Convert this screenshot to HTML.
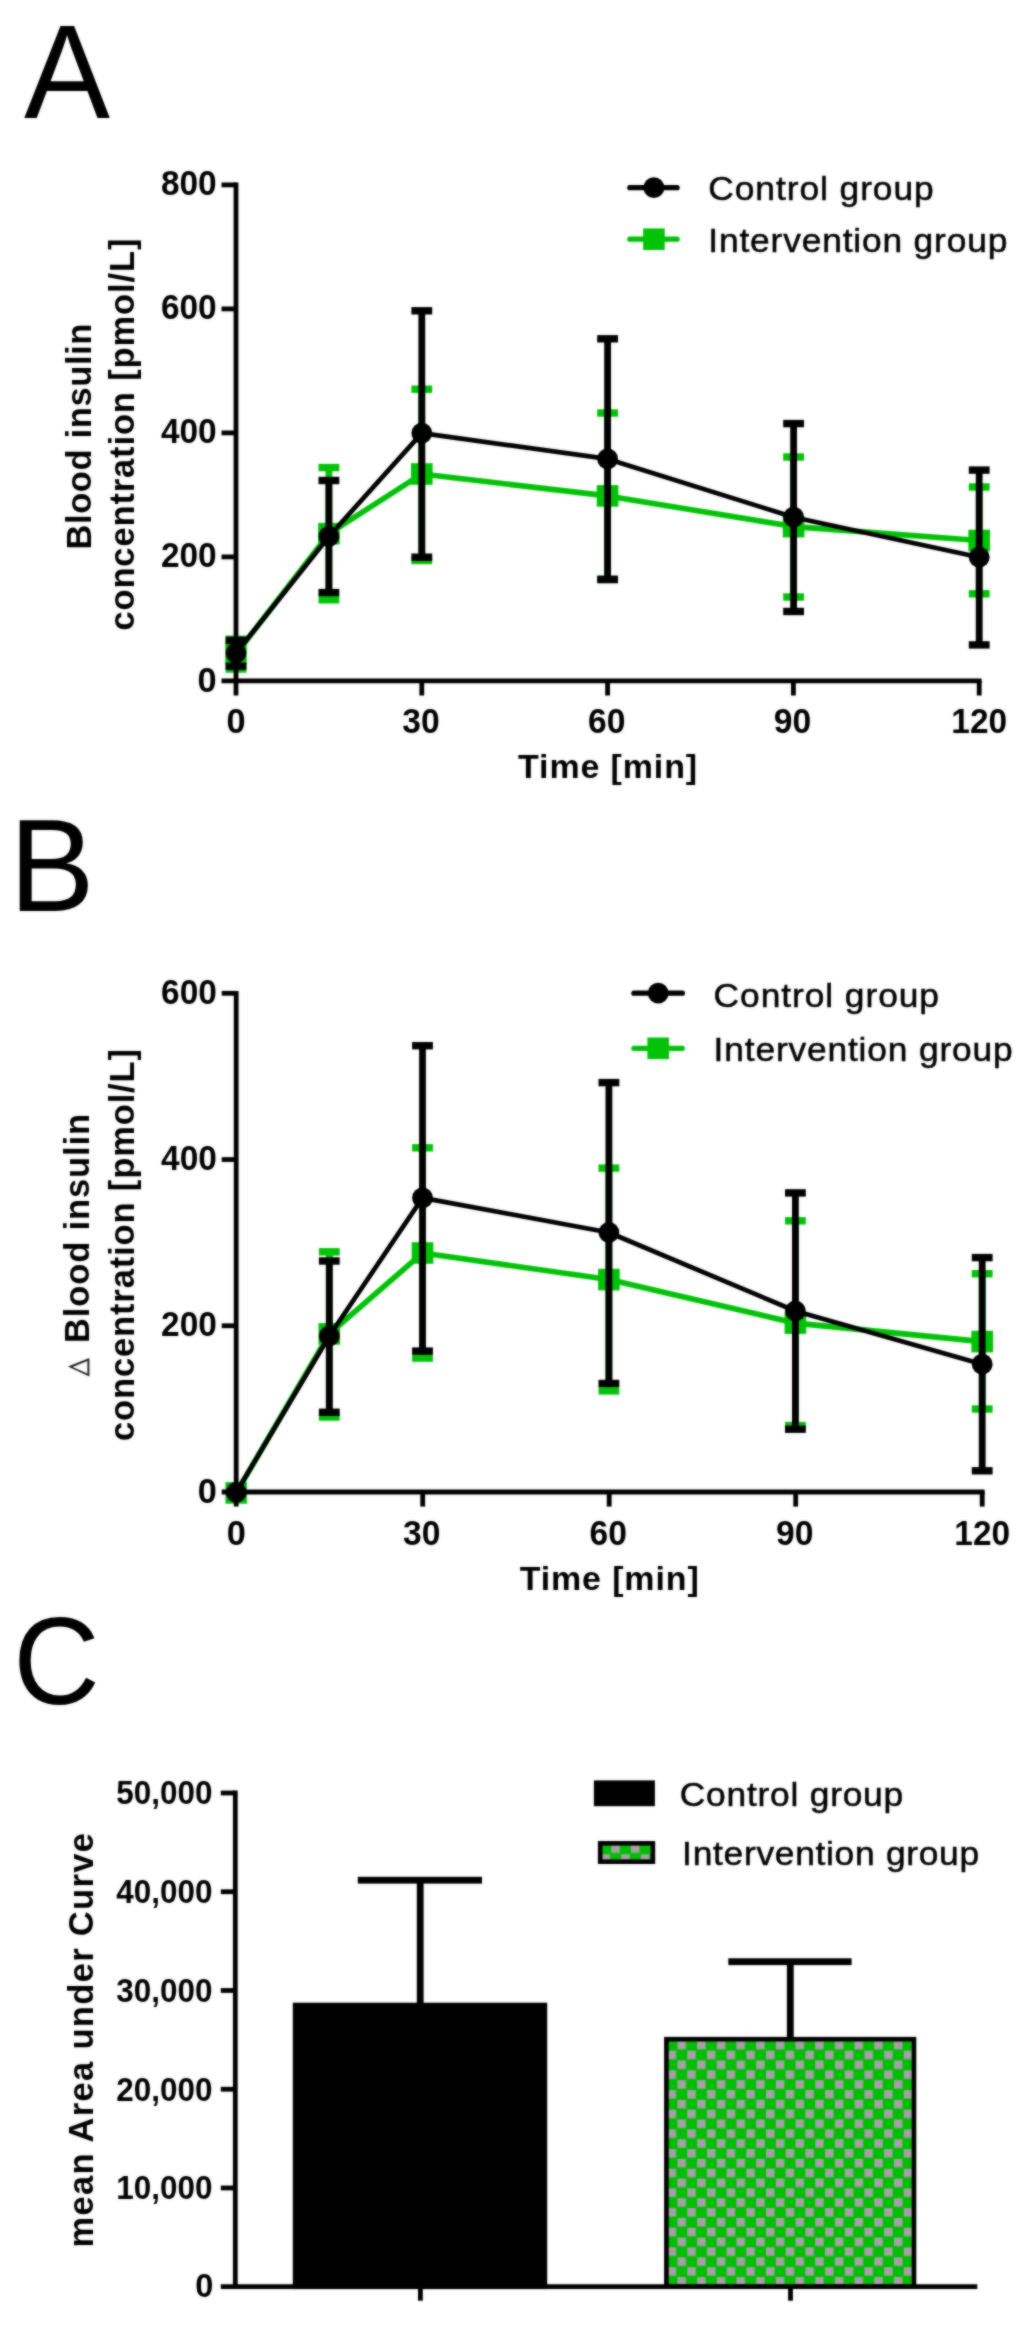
<!DOCTYPE html>
<html><head><meta charset="utf-8"><title>Figure</title>
<style>
html,body{margin:0;padding:0;background:#fff;}
svg{display:block;font-family:"Liberation Sans",sans-serif;}
</style></head>
<body>
<svg width="1034" height="2337" viewBox="0 0 1034 2337">
<defs><filter id="bl" color-interpolation-filters="sRGB" x="0" y="0" width="1034" height="2337" filterUnits="userSpaceOnUse"><feGaussianBlur stdDeviation="0.8" result="b"/><feComposite in="b" in2="SourceGraphic" operator="arithmetic" k1="0" k2="0.6" k3="0.4" k4="0"/></filter></defs>
<rect width="1034" height="2337" fill="#fff"/>
<g filter="url(#bl)">
<rect width="1034" height="2337" fill="#fff"/>
<text transform="translate(24 117.6) scale(1 1.03)" font-size="129">A</text>
<polyline points="236,654 328.9,533.7 421.8,474 607.6,495.9 793.6,526.6 979.2,540.5" fill="none" stroke="#00c206" stroke-width="5.6" stroke-linejoin="round"/>
<line x1="236" y1="639.3" x2="236" y2="669" stroke="#00c206" stroke-width="6.8" stroke-linecap="butt"/>
<rect x="225.6" y="635.6" width="20.8" height="7.4" fill="#00c206"/>
<rect x="225.6" y="665.3" width="20.8" height="7.4" fill="#00c206"/>
<line x1="328.9" y1="467.6" x2="328.9" y2="599.8" stroke="#00c206" stroke-width="6.8" stroke-linecap="butt"/>
<rect x="318.5" y="463.9" width="20.8" height="7.4" fill="#00c206"/>
<rect x="318.5" y="596.1" width="20.8" height="7.4" fill="#00c206"/>
<line x1="421.8" y1="389.2" x2="421.8" y2="560.5" stroke="#00c206" stroke-width="6.8" stroke-linecap="butt"/>
<rect x="411.4" y="385.5" width="20.8" height="7.4" fill="#00c206"/>
<rect x="411.4" y="556.8" width="20.8" height="7.4" fill="#00c206"/>
<line x1="607.6" y1="413" x2="607.6" y2="579" stroke="#00c206" stroke-width="6.8" stroke-linecap="butt"/>
<rect x="597.2" y="409.3" width="20.8" height="7.4" fill="#00c206"/>
<rect x="597.2" y="575.3" width="20.8" height="7.4" fill="#00c206"/>
<line x1="793.6" y1="457" x2="793.6" y2="597" stroke="#00c206" stroke-width="6.8" stroke-linecap="butt"/>
<rect x="783.2" y="453.3" width="20.8" height="7.4" fill="#00c206"/>
<rect x="783.2" y="593.3" width="20.8" height="7.4" fill="#00c206"/>
<line x1="979.2" y1="487" x2="979.2" y2="593.8" stroke="#00c206" stroke-width="6.8" stroke-linecap="butt"/>
<rect x="968.8" y="483.3" width="20.8" height="7.4" fill="#00c206"/>
<rect x="968.8" y="590.1" width="20.8" height="7.4" fill="#00c206"/>
<rect x="225.2" y="643.2" width="21.6" height="21.6" fill="#00c206"/>
<rect x="318.1" y="522.9" width="21.6" height="21.6" fill="#00c206"/>
<rect x="411" y="463.2" width="21.6" height="21.6" fill="#00c206"/>
<rect x="596.8" y="485.1" width="21.6" height="21.6" fill="#00c206"/>
<rect x="782.8" y="515.8" width="21.6" height="21.6" fill="#00c206"/>
<rect x="968.4" y="529.7" width="21.6" height="21.6" fill="#00c206"/>
<polyline points="236,653 328.9,536.5 421.8,433.1 607.6,458.9 793.6,517.2 979.2,557.2" fill="none" stroke="#000" stroke-width="4.7" stroke-linejoin="round"/>
<line x1="236" y1="640.4" x2="236" y2="666.2" stroke="#000" stroke-width="6.8" stroke-linecap="butt"/>
<rect x="225.6" y="636.7" width="20.8" height="7.4" fill="#000"/>
<rect x="225.6" y="662.5" width="20.8" height="7.4" fill="#000"/>
<line x1="328.9" y1="480.5" x2="328.9" y2="592.6" stroke="#000" stroke-width="6.8" stroke-linecap="butt"/>
<rect x="318.5" y="476.8" width="20.8" height="7.4" fill="#000"/>
<rect x="318.5" y="588.9" width="20.8" height="7.4" fill="#000"/>
<line x1="421.8" y1="310.8" x2="421.8" y2="557.2" stroke="#000" stroke-width="6.8" stroke-linecap="butt"/>
<rect x="411.4" y="307.1" width="20.8" height="7.4" fill="#000"/>
<rect x="411.4" y="553.5" width="20.8" height="7.4" fill="#000"/>
<line x1="607.6" y1="338.8" x2="607.6" y2="579.6" stroke="#000" stroke-width="6.8" stroke-linecap="butt"/>
<rect x="597.2" y="335.1" width="20.8" height="7.4" fill="#000"/>
<rect x="597.2" y="575.9" width="20.8" height="7.4" fill="#000"/>
<line x1="793.6" y1="423.6" x2="793.6" y2="611.5" stroke="#000" stroke-width="6.8" stroke-linecap="butt"/>
<rect x="783.2" y="419.9" width="20.8" height="7.4" fill="#000"/>
<rect x="783.2" y="607.8" width="20.8" height="7.4" fill="#000"/>
<line x1="979.2" y1="470.1" x2="979.2" y2="644.9" stroke="#000" stroke-width="6.8" stroke-linecap="butt"/>
<rect x="968.8" y="466.4" width="20.8" height="7.4" fill="#000"/>
<rect x="968.8" y="641.2" width="20.8" height="7.4" fill="#000"/>
<circle cx="236" cy="653" r="10.4"/>
<circle cx="328.9" cy="536.5" r="10.4"/>
<circle cx="421.8" cy="433.1" r="10.4"/>
<circle cx="607.6" cy="458.9" r="10.4"/>
<circle cx="793.6" cy="517.2" r="10.4"/>
<circle cx="979.2" cy="557.2" r="10.4"/>
<line x1="236" y1="182.5" x2="236" y2="695.5" stroke="#000" stroke-width="4.8" stroke-linecap="butt"/>
<line x1="221.5" y1="680.9" x2="981.6" y2="680.9" stroke="#000" stroke-width="4.8" stroke-linecap="butt"/>
<text x="216.7" y="692" font-size="34.3" font-weight="bold" text-anchor="end">0</text>
<line x1="221.5" y1="556.9" x2="236" y2="556.9" stroke="#000" stroke-width="4.8" stroke-linecap="butt"/>
<text x="216.7" y="567.3" font-size="34.3" font-weight="bold" text-anchor="end" textLength="55.8" lengthAdjust="spacingAndGlyphs">200</text>
<line x1="221.5" y1="432.9" x2="236" y2="432.9" stroke="#000" stroke-width="4.8" stroke-linecap="butt"/>
<text x="216.7" y="443.3" font-size="34.3" font-weight="bold" text-anchor="end" textLength="55.8" lengthAdjust="spacingAndGlyphs">400</text>
<line x1="221.5" y1="308.9" x2="236" y2="308.9" stroke="#000" stroke-width="4.8" stroke-linecap="butt"/>
<text x="216.7" y="319.3" font-size="34.3" font-weight="bold" text-anchor="end" textLength="55.8" lengthAdjust="spacingAndGlyphs">600</text>
<line x1="221.5" y1="184.9" x2="236" y2="184.9" stroke="#000" stroke-width="4.8" stroke-linecap="butt"/>
<text x="216.7" y="195.3" font-size="34.3" font-weight="bold" text-anchor="end" textLength="55.8" lengthAdjust="spacingAndGlyphs">800</text>
<text x="236" y="732.8" font-size="34.3" font-weight="bold" text-anchor="middle">0</text>
<line x1="421.8" y1="680.9" x2="421.8" y2="695.5" stroke="#000" stroke-width="4.8" stroke-linecap="butt"/>
<text x="420.9" y="732.8" font-size="34.3" font-weight="bold" text-anchor="middle" textLength="37.4" lengthAdjust="spacingAndGlyphs">30</text>
<line x1="607.6" y1="680.9" x2="607.6" y2="695.5" stroke="#000" stroke-width="4.8" stroke-linecap="butt"/>
<text x="606.7" y="732.8" font-size="34.3" font-weight="bold" text-anchor="middle" textLength="37.4" lengthAdjust="spacingAndGlyphs">60</text>
<line x1="793.4" y1="680.9" x2="793.4" y2="695.5" stroke="#000" stroke-width="4.8" stroke-linecap="butt"/>
<text x="792.5" y="732.8" font-size="34.3" font-weight="bold" text-anchor="middle" textLength="37.4" lengthAdjust="spacingAndGlyphs">90</text>
<line x1="979.2" y1="680.9" x2="979.2" y2="695.5" stroke="#000" stroke-width="4.8" stroke-linecap="butt"/>
<text x="979.2" y="732.8" font-size="34.3" font-weight="bold" text-anchor="middle" textLength="55.8" lengthAdjust="spacingAndGlyphs">120</text>
<text transform="translate(607.6 778.3) scale(1.03 1)" font-size="33" font-weight="bold" text-anchor="middle" textLength="173.91" lengthAdjust="spacing">Time [min]</text>
<text transform="translate(90.6 436.6) rotate(-90)" font-size="34.5" font-weight="bold" text-anchor="middle" textLength="226" lengthAdjust="spacing">Blood insulin</text>
<text transform="translate(134.4 434.6) rotate(-90)" font-size="34.5" font-weight="bold" text-anchor="middle" textLength="392" lengthAdjust="spacing">concentration [pmol/L]</text>
<line x1="629.8" y1="187.7" x2="677.1" y2="187.7" stroke="#000" stroke-width="5.2" stroke-linecap="round"/>
<circle cx="653.9" cy="187.7" r="10.4"/>
<line x1="629.8" y1="239.2" x2="677.1" y2="239.2" stroke="#00c206" stroke-width="5.2" stroke-linecap="round"/>
<rect x="643.1" y="228.4" width="21.6" height="21.6" fill="#00c206"/>
<text transform="translate(708.3 200.4) scale(1.04 1)" font-size="34" textLength="216.75" lengthAdjust="spacing" stroke="#000" stroke-width="0.5">Control group</text>
<text transform="translate(708.3 251.8) scale(1.04 1)" font-size="34" textLength="287.56" lengthAdjust="spacing" stroke="#000" stroke-width="0.5">Intervention group</text>
<text transform="translate(9.2 911.4) scale(1 1.03)" font-size="128">B</text>
<polyline points="236.2,1492.9 329.3,1333.9 422.5,1253 608.9,1279.6 795.4,1323.1 982.2,1341.6" fill="none" stroke="#00c206" stroke-width="5.6" stroke-linejoin="round"/>
<line x1="329.3" y1="1251.8" x2="329.3" y2="1417" stroke="#00c206" stroke-width="6.8" stroke-linecap="butt"/>
<rect x="318.9" y="1248.1" width="20.8" height="7.4" fill="#00c206"/>
<rect x="318.9" y="1413.3" width="20.8" height="7.4" fill="#00c206"/>
<line x1="422.5" y1="1147.8" x2="422.5" y2="1358.1" stroke="#00c206" stroke-width="6.8" stroke-linecap="butt"/>
<rect x="412.1" y="1144.1" width="20.8" height="7.4" fill="#00c206"/>
<rect x="412.1" y="1354.4" width="20.8" height="7.4" fill="#00c206"/>
<line x1="608.9" y1="1168.1" x2="608.9" y2="1390.9" stroke="#00c206" stroke-width="6.8" stroke-linecap="butt"/>
<rect x="598.5" y="1164.4" width="20.8" height="7.4" fill="#00c206"/>
<rect x="598.5" y="1387.2" width="20.8" height="7.4" fill="#00c206"/>
<line x1="795.4" y1="1220.8" x2="795.4" y2="1425.6" stroke="#00c206" stroke-width="6.8" stroke-linecap="butt"/>
<rect x="785" y="1217.1" width="20.8" height="7.4" fill="#00c206"/>
<rect x="785" y="1421.9" width="20.8" height="7.4" fill="#00c206"/>
<line x1="982.2" y1="1273.7" x2="982.2" y2="1409" stroke="#00c206" stroke-width="6.8" stroke-linecap="butt"/>
<rect x="971.8" y="1270" width="20.8" height="7.4" fill="#00c206"/>
<rect x="971.8" y="1405.3" width="20.8" height="7.4" fill="#00c206"/>
<rect x="225.4" y="1482.1" width="21.6" height="21.6" fill="#00c206"/>
<rect x="318.5" y="1323.1" width="21.6" height="21.6" fill="#00c206"/>
<rect x="411.7" y="1242.2" width="21.6" height="21.6" fill="#00c206"/>
<rect x="598.1" y="1268.8" width="21.6" height="21.6" fill="#00c206"/>
<rect x="784.6" y="1312.3" width="21.6" height="21.6" fill="#00c206"/>
<rect x="971.4" y="1330.8" width="21.6" height="21.6" fill="#00c206"/>
<polyline points="236.2,1492.5 329.3,1336 422.5,1197.9 608.9,1232.5 795.4,1311 982.2,1364.2" fill="none" stroke="#000" stroke-width="4.7" stroke-linejoin="round"/>
<line x1="329.3" y1="1261" x2="329.3" y2="1412.3" stroke="#000" stroke-width="6.8" stroke-linecap="butt"/>
<rect x="318.9" y="1257.3" width="20.8" height="7.4" fill="#000"/>
<rect x="318.9" y="1408.6" width="20.8" height="7.4" fill="#000"/>
<line x1="422.5" y1="1045.7" x2="422.5" y2="1351.1" stroke="#000" stroke-width="6.8" stroke-linecap="butt"/>
<rect x="412.1" y="1042" width="20.8" height="7.4" fill="#000"/>
<rect x="412.1" y="1347.4" width="20.8" height="7.4" fill="#000"/>
<line x1="608.9" y1="1082.6" x2="608.9" y2="1383.5" stroke="#000" stroke-width="6.8" stroke-linecap="butt"/>
<rect x="598.5" y="1078.9" width="20.8" height="7.4" fill="#000"/>
<rect x="598.5" y="1379.8" width="20.8" height="7.4" fill="#000"/>
<line x1="795.4" y1="1192.9" x2="795.4" y2="1429.2" stroke="#000" stroke-width="6.8" stroke-linecap="butt"/>
<rect x="785" y="1189.2" width="20.8" height="7.4" fill="#000"/>
<rect x="785" y="1425.5" width="20.8" height="7.4" fill="#000"/>
<line x1="982.2" y1="1257.6" x2="982.2" y2="1470.8" stroke="#000" stroke-width="6.8" stroke-linecap="butt"/>
<rect x="971.8" y="1253.9" width="20.8" height="7.4" fill="#000"/>
<rect x="971.8" y="1467.1" width="20.8" height="7.4" fill="#000"/>
<circle cx="236.2" cy="1492.5" r="10.4"/>
<circle cx="329.3" cy="1336" r="10.4"/>
<circle cx="422.5" cy="1197.9" r="10.4"/>
<circle cx="608.9" cy="1232.5" r="10.4"/>
<circle cx="795.4" cy="1311" r="10.4"/>
<circle cx="982.2" cy="1364.2" r="10.4"/>
<line x1="236.2" y1="990.9" x2="236.2" y2="1506.6" stroke="#000" stroke-width="4.8" stroke-linecap="butt"/>
<line x1="221.7" y1="1492" x2="984.6" y2="1492" stroke="#000" stroke-width="4.8" stroke-linecap="butt"/>
<text x="216.9" y="1503.1" font-size="34.3" font-weight="bold" text-anchor="end">0</text>
<line x1="221.7" y1="1325.77" x2="236.2" y2="1325.77" stroke="#000" stroke-width="4.8" stroke-linecap="butt"/>
<text x="216.9" y="1336.17" font-size="34.3" font-weight="bold" text-anchor="end" textLength="55.8" lengthAdjust="spacingAndGlyphs">200</text>
<line x1="221.7" y1="1159.53" x2="236.2" y2="1159.53" stroke="#000" stroke-width="4.8" stroke-linecap="butt"/>
<text x="216.9" y="1169.93" font-size="34.3" font-weight="bold" text-anchor="end" textLength="55.8" lengthAdjust="spacingAndGlyphs">400</text>
<line x1="221.7" y1="993.3" x2="236.2" y2="993.3" stroke="#000" stroke-width="4.8" stroke-linecap="butt"/>
<text x="216.9" y="1003.7" font-size="34.3" font-weight="bold" text-anchor="end" textLength="55.8" lengthAdjust="spacingAndGlyphs">600</text>
<text x="236.2" y="1544.9" font-size="34.3" font-weight="bold" text-anchor="middle">0</text>
<line x1="422.7" y1="1492" x2="422.7" y2="1506.6" stroke="#000" stroke-width="4.8" stroke-linecap="butt"/>
<text x="421.8" y="1544.9" font-size="34.3" font-weight="bold" text-anchor="middle" textLength="37.4" lengthAdjust="spacingAndGlyphs">30</text>
<line x1="609.2" y1="1492" x2="609.2" y2="1506.6" stroke="#000" stroke-width="4.8" stroke-linecap="butt"/>
<text x="608.3" y="1544.9" font-size="34.3" font-weight="bold" text-anchor="middle" textLength="37.4" lengthAdjust="spacingAndGlyphs">60</text>
<line x1="795.7" y1="1492" x2="795.7" y2="1506.6" stroke="#000" stroke-width="4.8" stroke-linecap="butt"/>
<text x="794.8" y="1544.9" font-size="34.3" font-weight="bold" text-anchor="middle" textLength="37.4" lengthAdjust="spacingAndGlyphs">90</text>
<line x1="982.2" y1="1492" x2="982.2" y2="1506.6" stroke="#000" stroke-width="4.8" stroke-linecap="butt"/>
<text x="982.2" y="1544.9" font-size="34.3" font-weight="bold" text-anchor="middle" textLength="55.8" lengthAdjust="spacingAndGlyphs">120</text>
<text transform="translate(609.2 1590.4) scale(1.03 1)" font-size="33" font-weight="bold" text-anchor="middle" textLength="173.91" lengthAdjust="spacing">Time [min]</text>
<text transform="translate(89.4 1228.5) rotate(-90)" font-size="34.5" font-weight="bold" text-anchor="middle" textLength="229" lengthAdjust="spacing">Blood insulin</text>
<text transform="translate(133.6 1245) rotate(-90)" font-size="34.5" font-weight="bold" text-anchor="middle" textLength="392" lengthAdjust="spacing">concentration [pmol/L]</text>
<line x1="633.9" y1="993.2" x2="682.4" y2="993.2" stroke="#000" stroke-width="5.2" stroke-linecap="round"/>
<circle cx="658.2" cy="993.2" r="10.4"/>
<line x1="633.9" y1="1048.3" x2="682.4" y2="1048.3" stroke="#00c206" stroke-width="5.2" stroke-linecap="round"/>
<rect x="647.4" y="1037.5" width="21.6" height="21.6" fill="#00c206"/>
<text transform="translate(713.6 1006.5) scale(1.04 1)" font-size="34" textLength="216.75" lengthAdjust="spacing" stroke="#000" stroke-width="0.5">Control group</text>
<text transform="translate(713.6 1061) scale(1.04 1)" font-size="34" textLength="287.56" lengthAdjust="spacing" stroke="#000" stroke-width="0.5">Intervention group</text>
<path d="M89.4 1376.5 L89.4 1358 L67.9 1366.6 Z M87.4 1373.6 L72.6 1366.9 L87.4 1361 Z" fill="#222" fill-rule="evenodd"/>
<text transform="translate(13.2 1703.6) scale(0.99 1.03)" font-size="121">C</text>
<rect x="292.8" y="2002.7" width="254.4" height="286.4" fill="#000"/>
<line x1="420.2" y1="1880.2" x2="420.2" y2="2003" stroke="#000" stroke-width="6.8" stroke-linecap="butt"/>
<rect x="357.8" y="1876.8" width="124.2" height="6.8" fill="#000"/>
<defs><pattern id="chk" x="677.45" y="2060.5" width="19.68" height="19.68" patternUnits="userSpaceOnUse"><rect width="19.68" height="19.68" fill="#00be02"/><rect x="0" y="0" width="8.5" height="8.5" fill="#a99ea9"/><rect x="9.84" y="9.84" width="8.5" height="8.5" fill="#a99ea9"/></pattern><pattern id="chk2" x="611.3" y="1844.4" width="19.68" height="19.68" patternUnits="userSpaceOnUse"><rect width="19.68" height="19.68" fill="#00be02"/><rect x="0" y="0" width="8.5" height="8.5" fill="#a99ea9"/><rect x="9.84" y="9.84" width="8.5" height="8.5" fill="#a99ea9"/></pattern></defs>
<rect x="666.4" y="2039.2" width="247.6" height="247.5" fill="url(#chk)" stroke="#000" stroke-width="4.6"/>
<line x1="790.3" y1="1961.7" x2="790.3" y2="2038" stroke="#000" stroke-width="6.8" stroke-linecap="butt"/>
<rect x="728.3" y="1958.3" width="123.3" height="6.8" fill="#000"/>
<line x1="235.3" y1="1790.6" x2="235.3" y2="2289.1" stroke="#000" stroke-width="4.8" stroke-linecap="butt"/>
<line x1="220.8" y1="2286.7" x2="977.3" y2="2286.7" stroke="#000" stroke-width="4.8" stroke-linecap="butt"/>
<text x="213.3" y="2296.9" font-size="32.6" font-weight="bold" text-anchor="end">0</text>
<line x1="220.8" y1="2187.96" x2="235.3" y2="2187.96" stroke="#000" stroke-width="4.8" stroke-linecap="butt"/>
<text x="212.5" y="2199.36" font-size="32.6" font-weight="bold" text-anchor="end" textLength="96.2" lengthAdjust="spacingAndGlyphs">10,000</text>
<line x1="220.8" y1="2089.22" x2="235.3" y2="2089.22" stroke="#000" stroke-width="4.8" stroke-linecap="butt"/>
<text x="212.5" y="2100.62" font-size="32.6" font-weight="bold" text-anchor="end" textLength="96.2" lengthAdjust="spacingAndGlyphs">20,000</text>
<line x1="220.8" y1="1990.48" x2="235.3" y2="1990.48" stroke="#000" stroke-width="4.8" stroke-linecap="butt"/>
<text x="212.5" y="2001.88" font-size="32.6" font-weight="bold" text-anchor="end" textLength="96.2" lengthAdjust="spacingAndGlyphs">30,000</text>
<line x1="220.8" y1="1891.74" x2="235.3" y2="1891.74" stroke="#000" stroke-width="4.8" stroke-linecap="butt"/>
<text x="212.5" y="1903.14" font-size="32.6" font-weight="bold" text-anchor="end" textLength="96.2" lengthAdjust="spacingAndGlyphs">40,000</text>
<line x1="220.8" y1="1793" x2="235.3" y2="1793" stroke="#000" stroke-width="4.8" stroke-linecap="butt"/>
<text x="212.5" y="1804.4" font-size="32.6" font-weight="bold" text-anchor="end" textLength="96.2" lengthAdjust="spacingAndGlyphs">50,000</text>
<line x1="420.4" y1="2286.7" x2="420.4" y2="2300.7" stroke="#000" stroke-width="4.8" stroke-linecap="butt"/>
<line x1="790.5" y1="2286.7" x2="790.5" y2="2300.7" stroke="#000" stroke-width="4.8" stroke-linecap="butt"/>
<text transform="translate(92.8 2040.3) rotate(-90)" font-size="34.5" font-weight="bold" text-anchor="middle" textLength="414.5" lengthAdjust="spacing">mean Area under Curve</text>
<rect x="593.9" y="1780.4" width="61" height="25.8" fill="#000"/>
<rect x="600.2" y="1843.3" width="52.7" height="18.4" fill="url(#chk2)" stroke="#000" stroke-width="4.6"/>
<text transform="translate(679.8 1806.3) scale(1.04 1)" font-size="34" textLength="214.83" lengthAdjust="spacing" stroke="#000" stroke-width="0.5">Control group</text>
<text transform="translate(682.1 1864.8) scale(1.04 1)" font-size="34" textLength="285.65" lengthAdjust="spacing" stroke="#000" stroke-width="0.5">Intervention group</text>
</g>
</svg>
</body></html>
